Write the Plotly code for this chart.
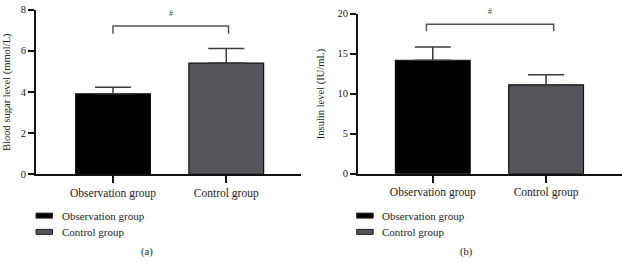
import plotly.graph_objects as go

# ---- data ----
groups = ["Observation group", "Control group"]
group_pos = [0, 1]
colors = ["#000000", "#55545a"]

sugar_mean = [3.91, 5.40]
sugar_sd = [0.31, 0.71]
insulin_mean = [14.17, 11.10]
insulin_sd = [1.67, 1.27]

sugar_ticks = [0, 2, 4, 6, 8]
insulin_ticks = [0, 5, 10, 15, 20]

# significance brackets: x ends, y (leg bottom, top)
sugar_bracket_x = [0.0, 1.02]
sugar_bracket_y = [6.82, 7.2]
insulin_bracket_x = [-0.056, 1.067]
insulin_bracket_y = [17.8, 18.68]
sig_label = "#"

W, H = 622, 263
FONT = "Liberation Serif"


def px(x):
    return x / W


def py(y):
    return 1 - y / H


fig = go.Figure()


def add_panel(means, sds, xa, ya, bx, by, shift):
    fig.add_trace(go.Bar(
        x=group_pos, y=means, width=0.66,
        marker=dict(color=colors, line=dict(color="#111111", width=1.2)),
        error_y=dict(type="data", array=sds, arrayminus=[0] * len(sds), symmetric=False,
                     color="#3c3c3c", thickness=1.5, width=18),
        xaxis=xa, yaxis=ya, showlegend=False, hoverinfo="skip"))
    fig.add_trace(go.Scatter(
        x=[bx[0], bx[0], bx[1], bx[1]], y=[by[0], by[1], by[1], by[0]],
        mode="lines", line=dict(color="#555555", width=1.5),
        xaxis=xa, yaxis=ya, showlegend=False, hoverinfo="skip", cliponaxis=False))
    fig.add_annotation(x=(bx[0] + bx[1]) / 2, y=by[1], xref=xa, yref=ya, text=sig_label,
                       yshift=shift, showarrow=False, xanchor="center", yanchor="middle",
                       font=dict(family=FONT, size=8, color="#444"))


add_panel(sugar_mean, sugar_sd, "x", "y", sugar_bracket_x, sugar_bracket_y, 12)
add_panel(insulin_mean, insulin_sd, "x2", "y2", insulin_bracket_x, insulin_bracket_y, 12.7)

xcommon = dict(tickmode="array", tickvals=group_pos, ticktext=groups,
               showline=True, linecolor="#111", linewidth=2, ticks="outside",
               ticklen=7, tickwidth=2, tickcolor="#111", showgrid=False, zeroline=False,
               tickfont=dict(family=FONT, size=11.5, color="#222"), fixedrange=True)
ycommon = dict(tickmode="array", showline=True, linecolor="#111", linewidth=2,
               ticks="outside", ticklen=6, tickwidth=2, tickcolor="#111",
               showgrid=False, zeroline=False,
               tickfont=dict(family=FONT, size=10.5, color="#222"), fixedrange=True)

fig.update_layout(
    width=W, height=H, margin=dict(l=0, r=0, t=0, b=0),
    paper_bgcolor="white", plot_bgcolor="white", showlegend=False,
    xaxis=dict(domain=[px(36), px(301)], range=[-0.68, 1.66], anchor="y", **xcommon),
    yaxis=dict(domain=[py(176.7), py(4.7)], range=[0, 8], anchor="x",
               tickvals=sugar_ticks, **ycommon),
    xaxis2=dict(domain=[px(358), 1.0], range=[-0.66, 1.67], anchor="y2", **xcommon),
    yaxis2=dict(domain=[py(176), py(9)], range=[0, 20], anchor="x2",
                tickvals=insulin_ticks, **ycommon),
)


def label(x, y, text, size, angle=0, xanchor="center"):
    fig.add_annotation(x=px(x), y=py(y), xref="paper", yref="paper", text=text,
                       textangle=angle, showarrow=False, xanchor=xanchor, yanchor="middle",
                       font=dict(family=FONT, size=size, color="#222"))


# y-axis titles
label(7, 90.7, "Blood sugar level (mmol/L)", 10.5, angle=-90)
label(321, 92, "Insulin level (IU/mL)", 10.5, angle=-90)

# manual legends
legend_rows_y = [219.8, 236.8]
for x0, tx in [(36, 60), (356.7, 380)]:
    for i, g in enumerate(groups):
        yc = legend_rows_y[i]
        fig.add_shape(type="rect", xref="paper", yref="paper",
                      x0=px(x0), x1=px(x0 + 16.5), y0=py(yc - 2.6), y1=py(yc + 2.6),
                      fillcolor=colors[i], line=dict(color="#222", width=1))
        label(tx, yc, g, 11, xanchor="left")

# panel labels
label(147, 257.5, "(a)", 10.5)
label(466.7, 257.5, "(b)", 10.5)

fig.write_html("out.html", post_script="document.body.style.margin='0';",
               config={"displayModeBar": False})
